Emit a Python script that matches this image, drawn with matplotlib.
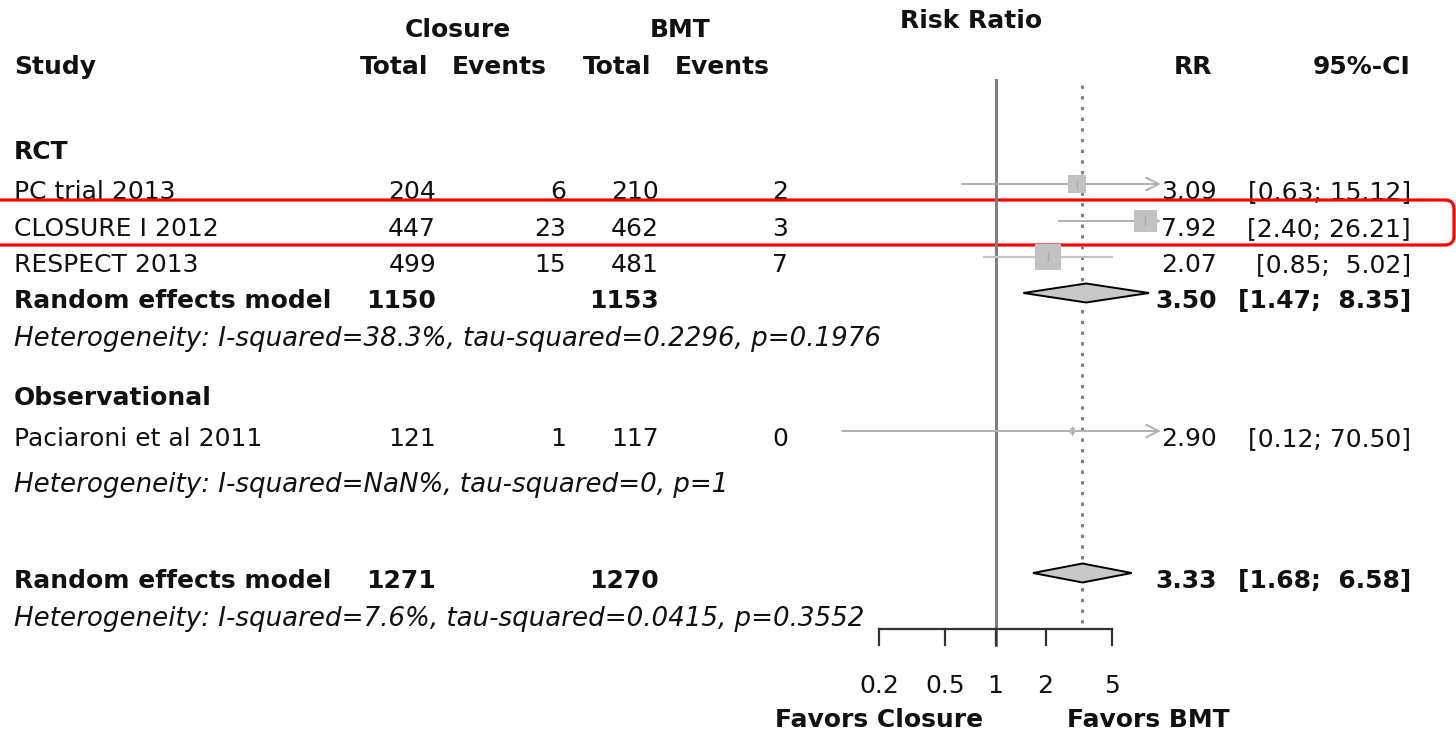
import numpy as np
import matplotlib.pyplot as plt
from matplotlib.patches import Polygon, FancyBboxPatch

plt.rcParams['font.family'] = ['DejaVu Sans']

# study-level data
studies = ["PC trial 2013", "CLOSURE I 2012", "RESPECT 2013", "Paciaroni et al 2011"]
closure_total = [204, 447, 499, 121]
closure_events = [6, 23, 15, 1]
bmt_total = [210, 462, 481, 117]
bmt_events = [2, 3, 7, 0]
rr = [3.09, 7.92, 2.07, 2.90]
ci_lo = [0.63, 2.40, 0.85, 0.12]
ci_hi = [15.12, 26.21, 5.02, 70.50]
weight = [20.3, 34.0, 43.9, 1.8]

# pooled estimates
pooled_labels = ["Random effects model", "Random effects model"]
pooled_closure_total = [1150, 1271]
pooled_bmt_total = [1153, 1270]
pooled_rr = [3.50, 3.33]
pooled_lo = [1.47, 1.68]
pooled_hi = [8.35, 6.58]
heterogeneity = [
    "Heterogeneity: I-squared=38.3%, tau-squared=0.2296, p=0.1976",
    "Heterogeneity: I-squared=NaN%, tau-squared=0, p=1",
    "Heterogeneity: I-squared=7.6%, tau-squared=0.0415, p=0.3552",
]
subgroups = ["RCT", "Observational"]
axis_ticks = [0.2, 0.5, 1, 2, 5]

# row baselines (pixels from top)
study_rows = [199, 236, 272, 446]
pooled_rows = [308, 588]
het_rows = [346, 492, 626]
group_rows = [159, 405]

W, H = 1456, 733
FS = 18
TXT = "#111111"

fig = plt.figure(figsize=(W / 100, H / 100), dpi=100)
ax = fig.add_axes([0, 0, 1, 1])
ax.set_xlim(0, W)
ax.set_ylim(H, 0)
ax.axis("off")

# forest panel: log scale, 0.1..10 across x pixels 829..1162
fa = fig.add_axes([829 / W, 0, 333 / W, 1])
fa.set_xscale("log")
fa.set_xlim(0.1, 10)
fa.set_ylim(H, 0)
fa.axis("off")
XMIN, XMAX = 0.1, 10


def txt(x, y, s, ha="left", weight="normal", style="normal", size=FS):
    ax.text(x, y, s, ha=ha, va="baseline", fontsize=size, color=TXT,
            fontweight=weight, fontstyle=style)


def ci_text(lo, hi):
    pad = "  " if hi < 10 else " "
    return "[{:.2f};{}{:.2f}]".format(lo, pad, hi)


# headers
txt(458, 37, "Closure", ha="center", weight="bold")
txt(680, 37, "BMT", ha="center", weight="bold")
txt(971, 28, "Risk Ratio", ha="center", weight="bold")
txt(14, 74, "Study", weight="bold")
txt(428, 74, "Total", ha="right", weight="bold")
txt(547, 74, "Events", ha="right", weight="bold")
txt(651, 74, "Total", ha="right", weight="bold")
txt(770, 74, "Events", ha="right", weight="bold")
txt(1212, 74, "RR", ha="right", weight="bold")
txt(1410, 74, "95%-CI", ha="right", weight="bold")

for g, y in zip(subgroups, group_rows):
    txt(14, y, g, weight="bold")

for h, y in zip(heterogeneity, het_rows):
    txt(14, y, h, style="italic", size=FS + 0.8)

# reference lines
fa.plot([1, 1], [80, 645], color="#7f7f7f", lw=2.2, zorder=1)
fa.plot([pooled_rr[1], pooled_rr[1]], [85, 623], color="#808080", lw=2.2,
        linestyle=(0, (1.1, 2.4)), zorder=1)

# individual studies
for i, y in enumerate(study_rows):
    txt(14, y, studies[i])
    txt(436, y, str(closure_total[i]), ha="right")
    txt(566, y, str(closure_events[i]), ha="right")
    txt(659, y, str(bmt_total[i]), ha="right")
    txt(788, y, str(bmt_events[i]), ha="right")
    txt(1217, y, "{:.2f}".format(rr[i]), ha="right")
    txt(1411, y, ci_text(ci_lo[i], ci_hi[i]), ha="right")

    ym = y - 15
    lo = max(ci_lo[i], XMIN)
    hi = min(ci_hi[i], XMAX)
    if ci_hi[i] > XMAX:
        fa.annotate("", xy=(XMAX * 0.985, ym), xytext=(lo, ym),
                    arrowprops=dict(arrowstyle="->,head_length=0.9,head_width=0.45",
                                    color="#b0b0b0", lw=1.4, shrinkA=0, shrinkB=0),
                    zorder=2)
    else:
        fa.plot([lo, hi], [ym, ym], color="#c4c4c4", lw=1.6, zorder=2)
    side = 3.9 * np.sqrt(weight[i])
    fa.scatter([rr[i]], [ym], marker="s", s=(side * 0.72) ** 2,
               color="#c2c2c2", edgecolors="none", zorder=3)
    fa.plot([rr[i], rr[i]], [ym - 4, ym + 4], color="#aaaaaa", lw=1, zorder=4)

# pooled diamonds
for j, y in enumerate(pooled_rows):
    txt(14, y, pooled_labels[j], weight="bold")
    txt(436, y, str(pooled_closure_total[j]), ha="right", weight="bold")
    txt(659, y, str(pooled_bmt_total[j]), ha="right", weight="bold")
    txt(1217, y, "{:.2f}".format(pooled_rr[j]), ha="right", weight="bold")
    txt(1411, y, ci_text(pooled_lo[j], pooled_hi[j]), ha="right", weight="bold")
    ym = y - 15
    d = Polygon([(pooled_lo[j], ym), (pooled_rr[j], ym - 9.5),
                 (pooled_hi[j], ym), (pooled_rr[j], ym + 9.5)],
                closed=True, facecolor="#c8c8c8", edgecolor="black", lw=1.4,
                zorder=5)
    fa.add_patch(d)

# x axis
fa.plot([axis_ticks[0], axis_ticks[-1]], [629, 629], color="#333333", lw=1.6,
        clip_on=False)
for t in axis_ticks:
    fa.plot([t, t], [629, 645], color="#333333", lw=1.6, clip_on=False)
    fa.text(t, 693, "{:g}".format(t), ha="center", va="baseline",
            fontsize=FS, color=TXT)
txt(879, 727, "Favors Closure", ha="center", weight="bold")
txt(1148, 727, "Favors BMT", ha="center", weight="bold")

# highlight box
box = FancyBboxPatch((-20, 200), 1474, 45,
                     boxstyle="round,pad=0,rounding_size=9",
                     fill=False, edgecolor="red", lw=2.3, zorder=10,
                     clip_on=False)
ax.add_patch(box)

fig.savefig("out.png", dpi=100)
